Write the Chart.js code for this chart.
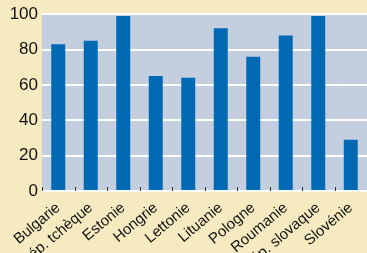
<!DOCTYPE html>
<html>
<head>
<meta charset="utf-8">
<script src="https://cdn.jsdelivr.net/npm/chart.js@4"></script>
<style>
  html, body { margin: 0; padding: 0; background: #F6EBC0; }
  #wrap { width: 367px; height: 253px; }
</style>
</head>
<body>
<div id="wrap"><canvas id="barChart" width="367" height="253"></canvas></div>
<script>
    const pays = ['Bulgarie', 'Rép. tchèque', 'Estonie', 'Hongrie', 'Lettonie',
                  'Lituanie', 'Pologne', 'Roumanie', 'Rép. slovaque', 'Slovénie'];
    const valeurs = [83, 85, 99, 65, 64, 92, 76, 88, 99, 29];
    const yTicks = [0, 20, 40, 60, 80, 100];

    // fond de la zone du graphique + petits repères entre les barres
    const fondPlugin = {
        id: 'fond',
        beforeDraw(chart) {
            const { ctx, chartArea: a } = chart;
            ctx.save();
            ctx.fillStyle = '#C3CEDF';
            ctx.fillRect(a.left, a.top, a.right - a.left, a.bottom - a.top);
            ctx.restore();
        },
        afterDatasetsDraw(chart) {
            const { ctx, chartArea: a } = chart;
            const x = chart.scales.x;
            ctx.save();
            ctx.strokeStyle = '#333';
            ctx.lineWidth = 1;
            for (let i = 0; i < pays.length; i++) {
                const px = Math.round(x.getPixelForValue(i - 0.5)) + 0.5;
                ctx.beginPath();
                ctx.moveTo(px, a.bottom - 4);
                ctx.lineTo(px, a.bottom);
                ctx.stroke();
            }
            ctx.restore();
        }
    };

    const ctx = document.getElementById('barChart').getContext('2d');
    const barChart = new Chart(ctx, {
        type: 'bar',
        data: {
            labels: pays,
            datasets: [{
                data: valeurs,
                backgroundColor: '#0069B4',
                barPercentage: 0.43,
                categoryPercentage: 1
            }]
        },
        options: {
            responsive: false,
            animation: false,
            layout: { padding: { top: 13, right: 0, left: 0, bottom: 0 } },
            plugins: {
                legend: { display: false },
                tooltip: { enabled: false }
            },
            scales: {
                y: {
                    min: 0,
                    max: 100,
                    afterBuildTicks: (s) => { s.ticks = yTicks.map(v => ({ value: v })); },
                    afterFit: (s) => { s.width = 42; },
                    border: { display: false },
                    grid: { color: '#FFFFFF', lineWidth: 2, drawTicks: false },
                    ticks: {
                        color: '#111',
                        padding: 4,
                        font: { family: 'Liberation Sans Narrow, Liberation Sans', size: 17 }
                    }
                },
                x: {
                    afterFit: (s) => { s.height = 62; },
                    border: { display: false },
                    grid: { display: false },
                    ticks: {
                        color: '#111',
                        autoSkip: false,
                        minRotation: 40,
                        maxRotation: 40,
                        padding: 0,
                        font: { family: 'Liberation Sans Narrow, Liberation Sans', size: 15 }
                    }
                }
            }
        },
        plugins: [fondPlugin]
    });
</script>
</body>
</html>
